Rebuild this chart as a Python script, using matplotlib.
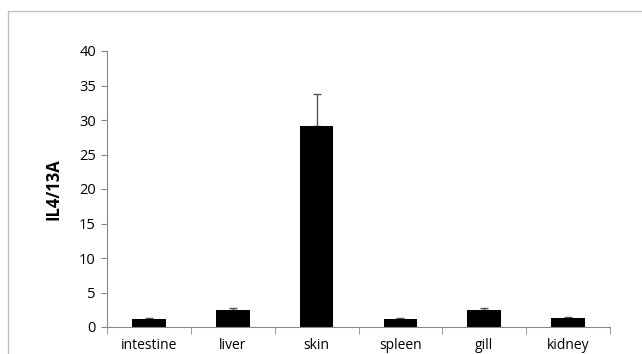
import numpy as np
import matplotlib.pyplot as plt
from matplotlib.patches import Rectangle

tissues = ['intestine', 'liver', 'skin', 'spleen', 'gill', 'kidney']
ratio = [1.1, 2.5, 29.2, 1.1, 2.5, 1.3]
err = [0.2, 0.3, 4.5, 0.2, 0.3, 0.1]

plt.rcParams['font.family'] = ['Open Sans', 'DejaVu Sans']

fig = plt.figure(figsize=(6.42, 3.54), dpi=100)
fig.patches.append(Rectangle((8/642, -0.1), 1.0, 1 - 11/354 + 0.1, transform=fig.transFigure,
                             fill=False, edgecolor='#c0c0c0', linewidth=1))
ax = fig.add_axes([107/642, 1 - 327/354, (610 - 107)/642, (327 - 51)/354])

x = np.arange(len(tissues))
ax.bar(x, ratio, width=0.4, color='black', zorder=2)
ax.errorbar(x, ratio, yerr=[np.zeros(len(err)), err], fmt='none', ecolor='#555555',
            elinewidth=1, capsize=3, capthick=1, zorder=1)

ax.set_xlim(-0.5, len(tissues) - 0.5)
ax.set_ylim(0, 40)
ax.set_yticks(range(0, 41, 5))
ax.set_xticks(x)
ax.set_xticklabels(tissues, fontsize=10)
ax.set_xticks(np.arange(-0.5, len(tissues), 1), minor=True)
ax.tick_params(axis='x', which='major', length=0, pad=8)
ax.tick_params(axis='x', which='minor', length=5, color='#888888', direction='out')
ax.tick_params(axis='y', length=4, color='#888888', labelsize=10.5, pad=4)

for s in ['top', 'right']:
    ax.spines[s].set_visible(False)
ax.spines['left'].set_color('#888888')
ax.spines['bottom'].set_color('#888888')

ax.set_ylabel('IL4/13A', fontsize=12, fontweight='bold', labelpad=12)

fig.savefig('out.png', dpi=100)
